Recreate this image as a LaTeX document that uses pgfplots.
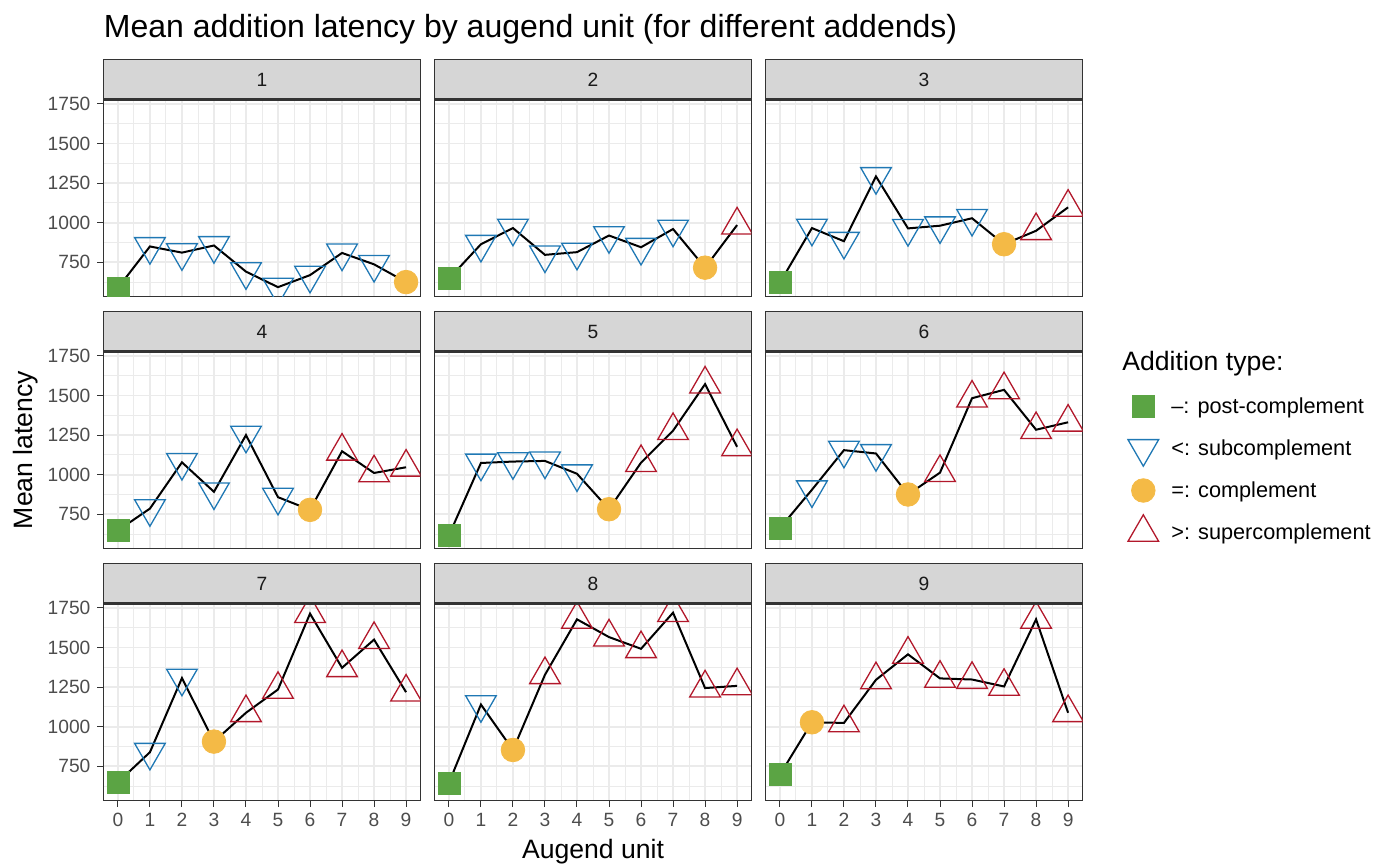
\documentclass[border=0pt]{standalone}
\usepackage{fontspec}
\setmainfont{Liberation Sans}
\usepackage{pgfplots}
\usepackage{pgfplotstable}
\pgfplotsset{compat=1.18}

\definecolor{cgreen}{RGB}{91,164,68}
\definecolor{cblue}{RGB}{31,120,180}
\definecolor{cred}{RGB}{178,24,43}
\definecolor{cyellow}{RGB}{244,186,70}
\definecolor{gridc}{RGB}{235,235,235}
\definecolor{stripgray}{RGB}{214,214,214}
\definecolor{grey20}{RGB}{51,51,51}
\definecolor{grey30}{RGB}{77,77,77}
\definecolor{grey10}{RGB}{26,26,26}

% open triangle pointing down
\pgfdeclareplotmark{tridown}{%
  \pgfpathmoveto{\pgfqpointpolar{-90}{1.\pgfplotmarksize}}%
  \pgfpathlineto{\pgfqpointpolar{30}{1.\pgfplotmarksize}}%
  \pgfpathlineto{\pgfqpointpolar{150}{1.\pgfplotmarksize}}%
  \pgfpathclose
  \pgfusepathqstroke
}

% one table per addend: augend unit, mean latency, addition type
% p = post-complement, s = subcomplement, c = complement, u = supercomplement
\pgfplotstableread{
x y t
0 588 p
1 850 s
2 811 s
3 856 s
4 691 s
5 593 s
6 669 s
7 809 s
8 737 s
9 625 c
}\tA
\pgfplotstableread{
x y t
0 646 p
1 864 s
2 966 s
3 797 s
4 814 s
5 919 s
6 845 s
7 960 s
8 716 c
9 985 u
}\tB
\pgfplotstableread{
x y t
0 621 p
1 966 s
2 883 s
3 1292 s
4 964 s
5 981 s
6 1028 s
7 864 c
8 949 u
9 1097 u
}\tC
\pgfplotstableread{
x y t
0 648 p
1 786 s
2 1078 s
3 892 s
4 1250 s
5 858 s
6 778 c
7 1148 u
8 1011 u
9 1047 u
}\tD
\pgfplotstableread{
x y t
0 617 p
1 1074 s
2 1083 s
3 1087 s
4 1006 s
5 782 c
6 1076 u
7 1278 u
8 1572 u
9 1176 u
}\tE
\pgfplotstableread{
x y t
0 663 p
1 905 s
2 1155 s
3 1134 s
4 875 c
5 1013 u
6 1483 u
7 1536 u
8 1284 u
9 1331 u
}\tF
\pgfplotstableread{
x y t
0 649 p
1 839 s
2 1307 s
3 906 c
4 1088 u
5 1235 u
6 1714 u
7 1372 u
8 1550 u
9 1218 u
}\tG
\pgfplotstableread{
x y t
0 645 p
1 1140 s
2 853 c
3 1328 u
4 1678 u
5 1566 u
6 1492 u
7 1720 u
8 1244 u
9 1258 u
}\tH
\pgfplotstableread{
x y t
0 697 p
1 1028 c
2 1024 u
3 1296 u
4 1457 u
5 1305 u
6 1298 u
7 1254 u
8 1678 u
9 1088 u
}\tI

\pgfplotsset{
  facet/.style={
    anchor=south west, scale only axis, width=158.5pt, height=98.5pt,
    xmin=-0.45, xmax=9.45, ymin=534, ymax=1778,
    xtick={0,...,9}, ytick={750,1000,...,1750},
    minor xtick={0.5,1.5,...,8.5}, minor ytick={625,875,...,1625},
    xtick pos=bottom, ytick pos=left, tick align=outside,
    major tick length=3pt, minor tick length=0pt,
    grid=both,
    major grid style={draw=gridc, line width=0.9pt},
    minor grid style={draw=gridc, line width=0.45pt},
    axis line style={draw=grey20, line width=0.5pt},
    tick label style={font=\fontsize{9.6}{11}\selectfont, text=grey30},
    clip marker paths=true,
  },
  nox/.style={xticklabels={}, xtick style={draw=none}},
  noy/.style={yticklabels={}, ytick style={draw=none}},
  xon/.style={xticklabels={0,1,2,3,4,5,6,7,8,9}, xtick style={draw=grey20, line width=0.5pt}},
  yon/.style={yticklabels={750,1000,1250,1500,1750}, ytick style={draw=grey20, line width=0.5pt}},
  marktypes/.style={
    scatter, only marks, scatter src=explicit symbolic,
    scatter/classes={
      p={mark=square*, mark size=5.5pt, cgreen},
      s={mark=tridown, mark size=8.85pt, line width=0.65pt, cblue},
      c={mark=*, mark size=5.9pt, cyellow},
      u={mark=triangle, mark size=8.85pt, line width=0.65pt, cred}}
  },
}

\newcommand{\facet}[5]{%
  \begin{axis}[facet, at={(#1pt,#2pt)}, #5]
    \addplot[black, line width=1pt, no marks] table[x=x, y=y] {#4};
    \addplot[marktypes] table[x=x, y=y, meta=t] {#4};
  \end{axis}
  \draw[fill=stripgray, draw=grey20, line width=0.5pt] (#1pt,{#2pt+98.5pt}) rectangle ++(158.5pt,20pt);
  \draw[grey20, line width=1.2pt] (#1pt,{#2pt+98.5pt}) -- ++(158.5pt,0);
  \node[font=\fontsize{9.6}{11}\selectfont, text=grey10] at ({#1pt+79.25pt},{#2pt+108.5pt}) {#3};
}

\begin{document}
\begin{tikzpicture}
\useasboundingbox (0,0) rectangle (687.5pt,433.5pt);

\facet{51.75}{285.25}{1}{\tA}{nox, yon}
\facet{217.25}{285.25}{2}{\tB}{nox, noy}
\facet{382.75}{285.25}{3}{\tC}{nox, noy}
\facet{51.75}{159.25}{4}{\tD}{nox, yon}
\facet{217.25}{159.25}{5}{\tE}{nox, noy}
\facet{382.75}{159.25}{6}{\tF}{nox, noy}
\facet{51.75}{33.25}{7}{\tG}{xon, yon}
\facet{217.25}{33.25}{8}{\tH}{xon, noy}
\facet{382.75}{33.25}{9}{\tI}{xon, noy}

% legend keys
\begin{axis}[hide axis, anchor=south west, at={(550pt,150pt)}, x=1pt, y=1pt,
  xmin=550, xmax=680, ymin=150, ymax=260, clip=false]
  \addplot[only marks, mark=square*, mark size=5.5pt, cgreen] coordinates {(571.65,230.25)};
  \addplot[only marks, mark=tridown, mark size=8.85pt, line width=0.65pt, cblue] coordinates {(571.65,209.25)};
  \addplot[only marks, mark=*, mark size=5.9pt, cyellow] coordinates {(571.65,188.25)};
  \addplot[only marks, mark=triangle, mark size=8.85pt, line width=0.65pt, cred] coordinates {(571.65,167.25)};
\end{axis}

\node[anchor=base west, inner sep=0pt, font=\fontsize{13.3}{15}\selectfont] at (561pt,248.25pt) {Addition type:};
\begin{scope}[every node/.style={anchor=base west, inner sep=0pt, font=\fontsize{10.85}{13}\selectfont, text=black}]
  \node at (585.5pt,226.85pt) {–: post-complement};
  \node at (585.5pt,205.85pt) {<: subcomplement};
  \node at (585.5pt,184.85pt) {=: complement};
  \node at (585.5pt,163.85pt) {>: supercomplement};
\end{scope}

\node[anchor=base west, inner sep=0pt, font=\fontsize{16}{19}\selectfont] at (51.75pt,414.65pt)
  {Mean addition latency by augend unit (for different addends)};
\node[anchor=base, inner sep=0pt, font=\fontsize{13.3}{15}\selectfont] at (296.5pt,4.5pt) {Augend unit};
\node[anchor=base, inner sep=0pt, rotate=90, font=\fontsize{13.3}{15}\selectfont] at (16.5pt,208.5pt) {Mean latency};
\end{tikzpicture}
\end{document}
